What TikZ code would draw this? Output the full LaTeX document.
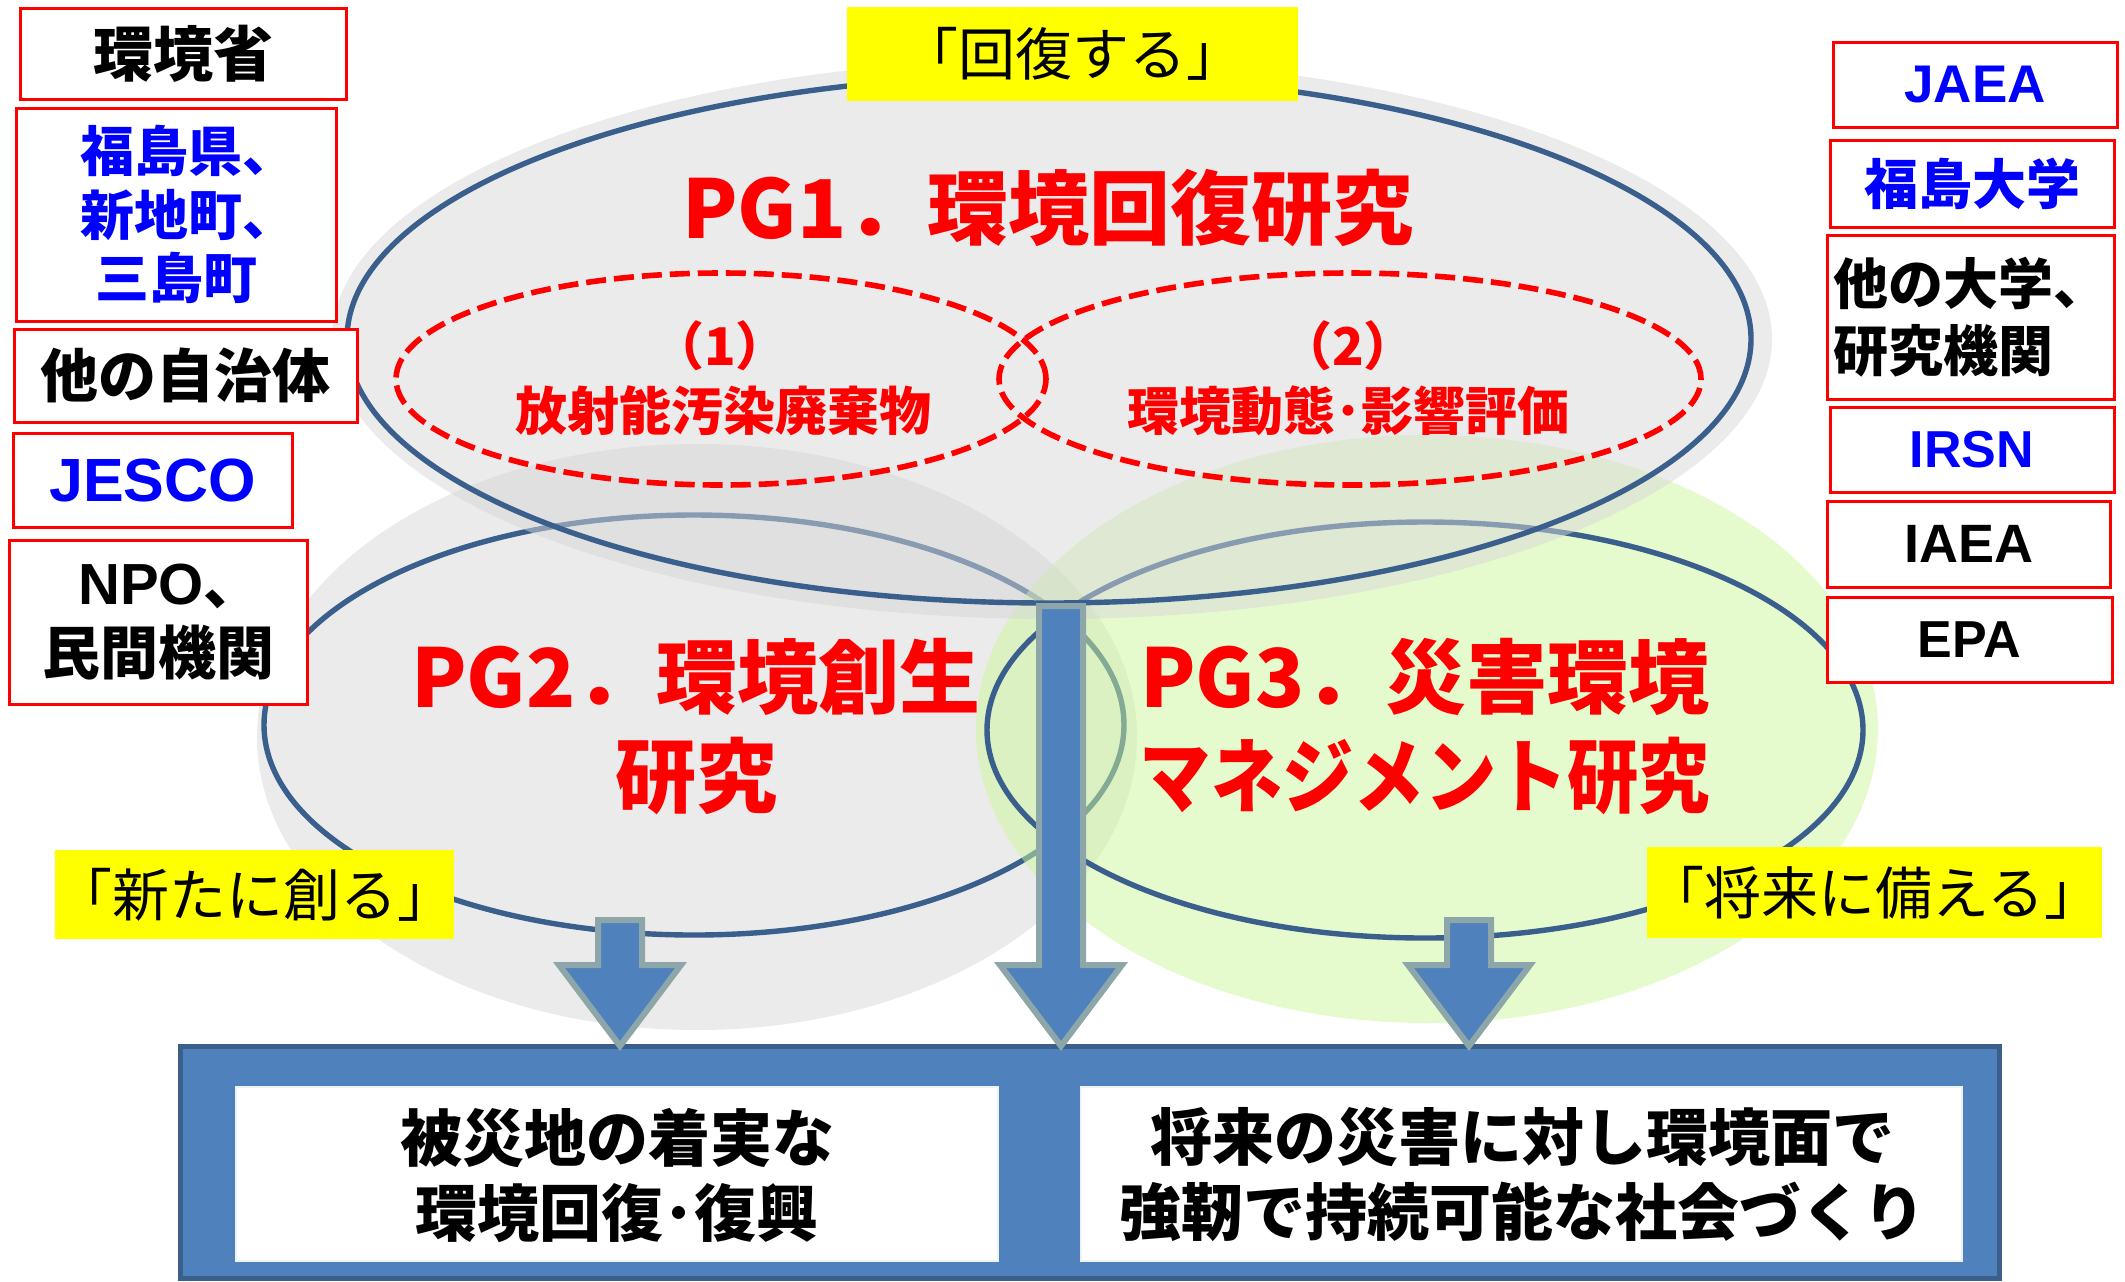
\documentclass[tikz,border=0pt]{standalone}
\usepackage{fontspec}
\setmainfont{Noto Sans CJK JP}
\newfontfamily\lat{Liberation Sans}
\definecolor{pgblue}{RGB}{58,95,140}
\definecolor{arrfill}{RGB}{79,129,189}
\definecolor{arrline}{RGB}{140,166,170}
\definecolor{boxline}{RGB}{58,95,139}
\definecolor{pggray}{RGB}{235,235,235}
\definecolor{pgonegray}{RGB}{215,215,215}
\definecolor{pggreen}{RGB}{205,247,155}
\definecolor{txtblue}{RGB}{0,0,255}
\definecolor{ylw}{RGB}{255,255,0}
\newcommand{\fs}[2]{\fontsize{#1}{#2}\selectfont}
\tikzset{
  rbox/.style={draw=red, line width=1.5pt, fill=white, inner sep=0pt, align=center},
  ylab/.style={fill=ylw, inner sep=0pt, font=\fs{28.5pt}{32pt}},
  ttl/.style={text=red, font=\bfseries\fs{40.5pt}{49.5pt}, align=center, inner sep=0pt},
  subttl/.style={text=red, font=\bfseries\fs{26pt}{30pt}, inner sep=0pt},
  pgline/.style={draw=pgblue, line width=2.7pt},
  dashell/.style={draw=red, line width=2.8pt, dash pattern=on 10pt off 4pt},
  blockarrow/.style={fill=arrfill, draw=arrline, line width=3pt, line join=miter},
  wbox/.style={fill=white, draw=white!90!arrfill, line width=1pt, inner sep=0pt},
  outtxt/.style={font=\bfseries\fs{31pt}{37.5pt}, align=center, inner sep=0pt},
}
\newcommand{\barrow}[2]{%
  \draw[blockarrow] (#1-22,#2) -- (#1+22,#2) -- (#1+22,965) -- (#1+61,965)
    -- (#1,1046) -- (#1-61,965) -- (#1-22,965) -- cycle;}
\begin{document}
\begin{tikzpicture}[x=0.5pt,y=-0.5pt]
\useasboundingbox (0,0) rectangle (2125,1281);
% PG2
\fill[pggray] (697,737) ellipse [x radius=220pt, y radius=146.5pt];
\draw[pgline] (694,725) ellipse [x radius=215pt, y radius=105pt];
% PG3
\fill[pggreen, fill opacity=0.5] (1427,729) ellipse [x radius=225.5pt, y radius=147pt];
\draw[pgline] (1425,730) ellipse [x radius=219pt, y radius=104pt];
% PG1
\fill[pgonegray, fill opacity=0.5] (1052,339) ellipse [x radius=360pt, y radius=140pt];
\draw[pgline] (1049,339) ellipse [x radius=351pt, y radius=132pt];
% dashed sub-ellipses
\draw[dashell] (721,379) ellipse [x radius=162.5pt, y radius=53pt];
\draw[dashell] (1350,379) ellipse [x radius=175.5pt, y radius=53pt];
% titles
\node[ttl] (pgone) at (1048,208) {PG1．環境回復研究};
\node[subttl] (sonen) at (720,346) {（1）};
\node[subttl] (sonet) at (723,411) {放射能汚染廃棄物};
\node[subttl] (stwon) at (1348,346) {（2）};
\node[subttl] (stwot) at (1348,411) {環境動態･影響評価};
\node[ttl] (pgtwo) at (696,727) {PG2．環境創生\\研究};
\node[ttl] (pgthree) at (1425,727) {PG3．災害環境\\\scalebox{0.88}[1]{マネジメント研究}};
% yellow labels
\node[ylab, minimum width=225.5pt, minimum height=47pt] (yone) at (1072.5,54) {「回復する」};
\node[ylab, minimum width=196.5pt, minimum height=44.5pt] (ytwo) at (254.5,894.5) {「新たに創る」};
\node[ylab, minimum width=221.5pt, minimum height=45.5pt] (ythree) at (1874.5,892.5) {「将来に備える」};
% left boxes
\node[rbox, minimum width=163pt, minimum height=45.5pt, font=\bfseries\fs{30pt}{34pt}] (moe) at (183,53.5) {環境省};
\node[rbox, minimum width=160pt, minimum height=106.5pt, font=\bfseries\fs{27pt}{31.75pt}, text=txtblue] (fuku) at (176,214.5) {\hspace*{12pt}福島県、\\\hspace*{12pt}新地町、\\三島町};
\node[rbox, minimum width=171.5pt, minimum height=46.5pt, font=\bfseries\fs{29pt}{34pt}] (jichi) at (185.5,375.5) {他の自治体};
\node[rbox, minimum width=139.5pt, minimum height=47pt, font=\lat\bfseries\fs{30.5pt}{34pt}, text=txtblue] (jesco) at (152.5,480) {JESCO};
\node[rbox, minimum width=149pt, minimum height=82pt, font=\bfseries\fs{29pt}{35pt}] (npo) at (158,622) {\hspace*{12pt}{\lat NPO}、\\民間機関};
% right boxes
\node[rbox, minimum width=142pt, minimum height=42.5pt, font=\lat\bfseries\fs{26.5pt}{30pt}, text=txtblue] (jaea) at (1975,84.5) {JAEA};
\node[rbox, minimum width=142pt, minimum height=43.5pt, font=\bfseries\fs{27pt}{31pt}, text=txtblue] (fukudai) at (1972,183.5) {福島大学};
\node[rbox, minimum width=143.5pt, minimum height=82pt, font=\bfseries\fs{27.5pt}{33.5pt}, align=left] (univ) at (1970.5,317) {他の大学、\\研究機関};
\node[rbox, minimum width=142pt, minimum height=42.5pt, font=\lat\bfseries\fs{26pt}{30pt}, text=txtblue] (irsn) at (1972,449.5) {IRSN};
\node[rbox, minimum width=141.5pt, minimum height=43pt, font=\lat\bfseries\fs{27pt}{30pt}] (iaea) at (1968.5,544) {IAEA};
\node[rbox, minimum width=142.5pt, minimum height=42.5pt, font=\lat\bfseries\fs{26pt}{30pt}] (epa) at (1969.5,639.5) {EPA};
% outcome box
\node[draw=boxline, fill=arrfill, line width=2.5pt, minimum width=909.5pt, minimum height=116pt, inner sep=0pt] (outcome) at (1089.5,1162) {};
\node[wbox, minimum width=381pt, minimum height=87pt] (outl) at (617,1174) {};
\node[wbox, minimum width=440.5pt, minimum height=87pt] (outr) at (1521.5,1174) {};
\node[outtxt] (outltxt) at (617,1175) {被災地の着実な\\環境回復･復興};
\node[outtxt] (outrtxt) at (1522,1175) {将来の災害に対し環境面で\\強靭で持続可能な社会づくり};
% arrows
\barrow{620}{920}
\barrow{1061}{606}
\barrow{1469}{920}
\end{tikzpicture}
\end{document}
